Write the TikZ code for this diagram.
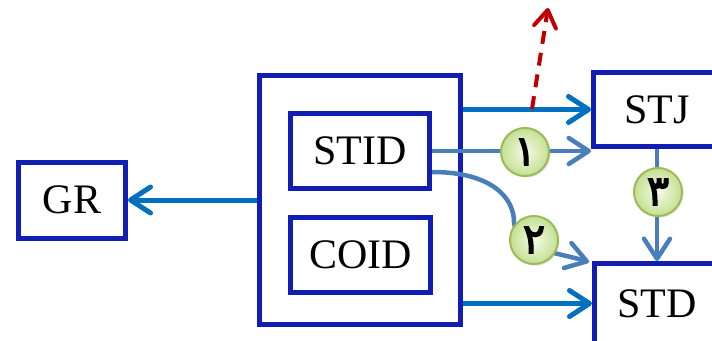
\documentclass[tikz,border=0pt]{standalone}
\usepackage{fontspec}
\setmainfont{Liberation Serif}
\newfontfamily\arabicfont[Script=Arabic,FakeBold=3]{DejaVu Sans}
\usetikzlibrary{arrows.meta,shadows}
\definecolor{boxblue}{RGB}{16,30,180}
\definecolor{mainblue}{RGB}{0,112,192}
\definecolor{thinblue}{RGB}{74,126,187}
\definecolor{darkred}{RGB}{192,0,0}
\definecolor{cgreen}{RGB}{155,187,89}
\definecolor{cin}{RGB}{244,251,230}
\definecolor{cout}{RGB}{196,224,146}
\begin{document}
\begin{tikzpicture}[x=1pt,y=-1pt,
  box/.style={draw=boxblue, line width=5pt, fill=white, rectangle, inner sep=0pt,
    font=\fontsize{42}{50}\selectfont},
  barb/.style={-{Straight Barb[length=20pt,width=26pt,line cap=round,line join=round]}},
  mainarrow/.style={barb, draw=mainblue, line width=5pt},
  thinarrow/.style={barb, draw=thinblue, line width=4.5pt},
  redarrow/.style={-{Straight Barb[length=17pt,width=22pt,line cap=round,line join=round]},
    draw=darkred, line width=4pt, dash pattern=on 13pt off 9pt},
  numcircle/.style={circle, draw=cgreen, line width=2pt, minimum size=48pt, inner sep=0pt,
    inner color=cin, outer color=cout,
    drop shadow={opacity=0.25, shadow xshift=1.5pt, shadow yshift=-1.5pt},
    font=\arabicfont\fontsize{42}{48}\selectfont}
]
\path[use as bounding box, clip] (0,0) rectangle (712,340);

\node[box, minimum width=107pt, minimum height=76pt] (GR) at (72,200) {GR};
\node[box, minimum width=201pt, minimum height=249pt] (outer) at (360,200) {};
\node[box, minimum width=139pt, minimum height=75pt] (STID) at (360,151) {STID};
\node[box, minimum width=140pt, minimum height=75pt] (COID) at (360.5,255) {COID};
\node[box, minimum width=127pt, minimum height=74pt] (STJ) at (657,109.5) {STJ};
\node[box, minimum width=125pt, minimum height=80pt] (STD) at (657,303.5) {STD};

% main arrows
\draw[mainarrow] (outer.west) -- (GR.east);
\draw[mainarrow] (outer.east |- STJ.west) -- (STJ.west);
\draw[mainarrow] (outer.east |- STD.west) -- (STD.west);

% dashed red arrow
\coordinate (dstart) at (532,109);
\coordinate (dend) at (548,8);
\draw[redarrow] (dstart) -- (dend);

% thin arrows
\draw[thinarrow] (STID.east) -- (STID.east -| STJ.west);
\draw[thinarrow] (STJ.south) -- (STJ.south |- STD.north);
\coordinate (s2) at (432,172);
\coordinate (t2) at (589,262);
\draw[thinarrow] (s2) .. controls (492,172) and (514,198) .. (514,222)
  .. controls (516,250) and (556,252) .. (t2);

% numbered circles
\node[numcircle] (c1) at (525,152) {١};
\node[numcircle] (c2) at (534,240) {٢};
\node[numcircle] (c3) at (658,192) {٣};
\end{tikzpicture}
\end{document}
